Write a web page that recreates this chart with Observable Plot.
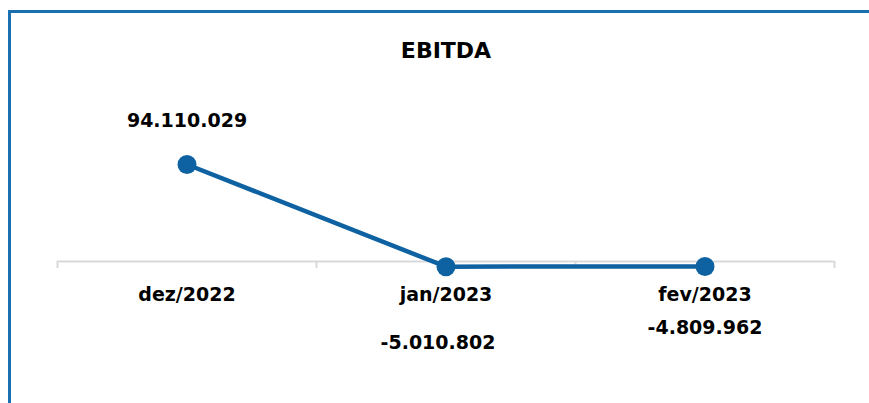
<!DOCTYPE html>
<html>
<head>
<meta charset="utf-8">
<script src="https://cdn.jsdelivr.net/npm/d3@7"></script>
<script src="https://cdn.jsdelivr.net/npm/@observablehq/plot@0.6"></script>
<style>
  html, body { margin: 0; padding: 0; background: #fff; }
  #wrap { position: relative; width: 869px; height: 403px; overflow: hidden; }
  #frame { position: absolute; left: 8px; top: 10px; right: -10px; bottom: -10px;
           border-left: 3px solid #1a70b0; border-top: 3px solid #1a70b0; }
  #chart { position: absolute; left: 0; top: 0; }
</style>
</head>
<body>
<div id="wrap"><div id="frame"></div><div id="chart"></div></div>
<script>
const title = "EBITDA";
const categories = ["dez/2022", "jan/2023", "fev/2023"];
const values = [94110029, -5010802, -4809962];
const valueLabels = ["94.110.029", "-5.010.802", "-4.809.962"];

const data = categories.map((c, i) => ({i, category: c, value: values[i], label: valueLabels[i]}));
const edges = d3.range(categories.length + 1).map(k => k - 0.5);

const font = "'DejaVu Sans', sans-serif";
const lineColor = "#0f62a1";

const chart = Plot.plot({
  width: 869,
  height: 403,
  marginLeft: 57,
  marginRight: 35,
  marginTop: 164,
  marginBottom: 142,
  style: {fontFamily: font, background: "transparent", overflow: "visible"},
  x: {type: "linear", domain: [-0.5, categories.length - 0.5], axis: null},
  y: {domain: [0, values[0]], axis: null},
  marks: [
    Plot.ruleY([0], {stroke: "#d9d9d9", strokeWidth: 2}),
    Plot.axisX({ticks: edges, tickFormat: () => "", tickSize: 7, stroke: "#d9d9d9", strokeWidth: 2, anchor: "bottom", label: null}),
    Plot.line(data, {x: "i", y: "value", stroke: lineColor, strokeWidth: 4.5}),
    Plot.dot(data, {x: "i", y: "value", r: 9.5, fill: lineColor, stroke: "none"}),
    Plot.text(data, {x: "i", y: 0, text: "category", dy: 33, fontSize: 19, fontWeight: "bold", fill: "#000"}),
    Plot.text(data.filter(d => d.i === 0), {x: "i", y: "value", text: "label", dy: -44, fontSize: 19, fontWeight: "bold", fill: "#000"}),
    Plot.text(data.filter(d => d.i === 1), {x: "i", y: "value", text: "label", dy: 76, dx: -8, fontSize: 19, fontWeight: "bold", fill: "#000"}),
    Plot.text(data.filter(d => d.i === 2), {x: "i", y: "value", text: "label", dy: 61, fontSize: 19, fontWeight: "bold", fill: "#000"}),
    Plot.text([title], {frameAnchor: "top", dy: -122, dx: 0, text: d => d, fontSize: 22, fontWeight: "bold", fill: "#000"})
  ]
});
document.getElementById("chart").appendChild(chart);
</script>
</body>
</html>
